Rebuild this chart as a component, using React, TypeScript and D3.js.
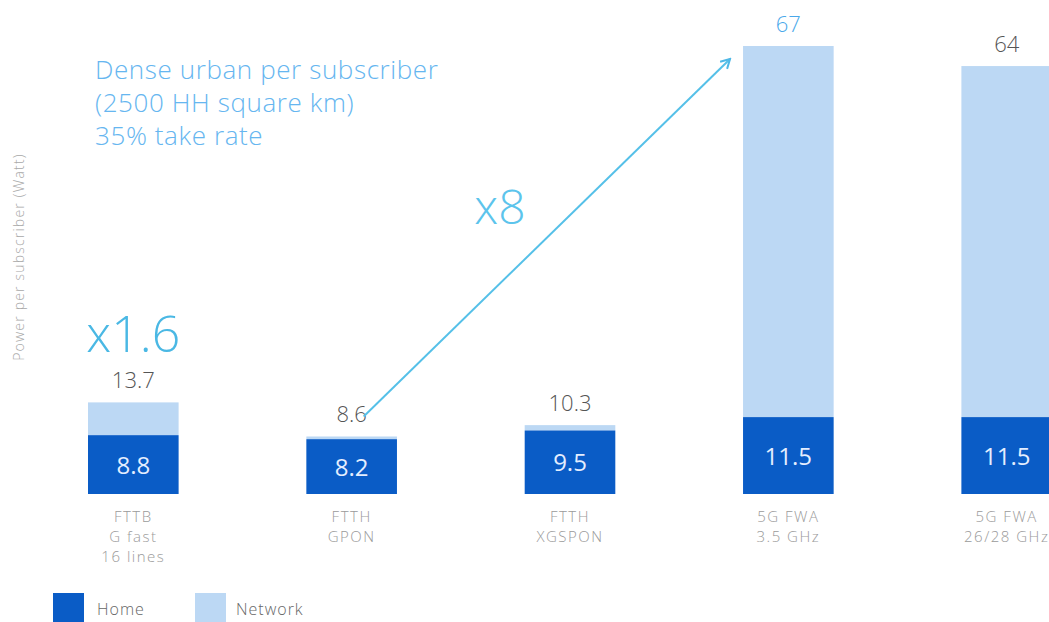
import React from "react";
import * as d3 from "d3";

const categories = ["FTTB|G fast|16 lines", "FTTH|GPON", "FTTH|XGSPON", "5G FWA|3.5 GHz", "5G FWA|26/28 GHz"];
const homeValues = [8.8, 8.2, 9.5, 11.5, 11.5];
const totalValues = [13.7, 8.6, 10.3, 67, 64];
const titleLines = ["Dense urban per subscriber", "(2500 HH square km)", "35% take rate"];
const legendItems = ["Home", "Network"];

const W = 1049;
const H = 622;
const HOME = "#0a5cc6";
const NET = "#bcd8f4";
const FONT = "'Open Sans', 'Noto Sans', sans-serif";

export default function App() {
  const x = d3.scaleBand<string>().domain(categories).range([88, 1052]).paddingInner(0.585).paddingOuter(0);
  const y = d3.scaleLinear().domain([0, 67]).range([494, 46]);
  const bw = x.bandwidth();

  const cx = (i: number) => (x(categories[i]) as number) + bw / 2;
  const ax1 = cx(1) + 12;
  const ay1 = y(totalValues[1]) - 20;
  const ax2 = (x(categories[3]) as number) - 13;
  const ay2 = y(totalValues[3]) + 13;

  return (
    <svg width={W} height={H} style={{ position: "absolute", left: 0, top: 0, background: "#fff" }} fontFamily={FONT}>
      <defs>
        <marker id="arr" viewBox="0 0 12 12" refX="10" refY="6" markerWidth="12" markerHeight="12" orient="auto" markerUnits="userSpaceOnUse">
          <path d="M1,1 L10,6 L1,11" fill="none" stroke="#4fb8e6" strokeWidth="2" />
        </marker>
      </defs>
      <text transform="translate(24,257) rotate(-90)" textAnchor="middle" fontSize={14} letterSpacing={1.2} fill="#a8a8a8" fontWeight={300}>
        Power per subscriber (Watt)
      </text>
      {titleLines.map((t, i) => (
        <text key={t} x={95} y={79 + i * 33} fontSize={26} letterSpacing={0.6} fill="#66b6f0" fontWeight={300}>
          {t}
        </text>
      ))}
      {categories.map((c, i) => {
        const x0 = x(c) as number;
        const yTot = y(totalValues[i]);
        const yHome = y(homeValues[i]);
        const lines = c.split("|");
        return (
          <g key={c}>
            <rect x={x0} y={yTot} width={bw} height={yHome - yTot} fill={NET} />
            <rect x={x0} y={yHome} width={bw} height={y(0) - yHome} fill={HOME} />
            <text x={x0 + bw / 2} y={(yHome + y(0)) / 2 + 9} textAnchor="middle" fontSize={24} fill="#e4eeff">
              {homeValues[i]}
            </text>
            <text x={x0 + bw / 2} y={yTot - 14} textAnchor="middle" fontSize={22} fontWeight={300} fill={i === 3 ? "#4aa8ea" : "#555"}>
              {totalValues[i]}
            </text>
            {lines.map((l, j) => (
              <text key={l} x={x0 + bw / 2} y={y(0) + 28 + j * 20} textAnchor="middle" fontSize={15} letterSpacing={1.5} fill="#9a9a9a" fontWeight={300}>
                {l}
              </text>
            ))}
          </g>
        );
      })}
      <text x={cx(0)} y={352} textAnchor="middle" fontSize={50} fill="#4ab8e4" fontWeight={300}>
        x1.6
      </text>
      <line x1={ax1} y1={ay1} x2={ax2} y2={ay2} stroke="#55c0e8" strokeWidth={2} markerEnd="url(#arr)" />
      <text x={500} y={224} textAnchor="middle" fontSize={48} fill="#5cc4ec" fontWeight={300}>
        x8
      </text>
      {legendItems.map((l, i) => (
        <g key={l} transform={`translate(${53 + i * 142},593)`}>
          <rect width={31} height={32} fill={i === 0 ? HOME : NET} />
          <text x={i === 0 ? 44 : 41} y={22} fontSize={16} letterSpacing={1} fill="#666" fontWeight={300}>
            {l}
          </text>
        </g>
      ))}
    </svg>
  );
}
